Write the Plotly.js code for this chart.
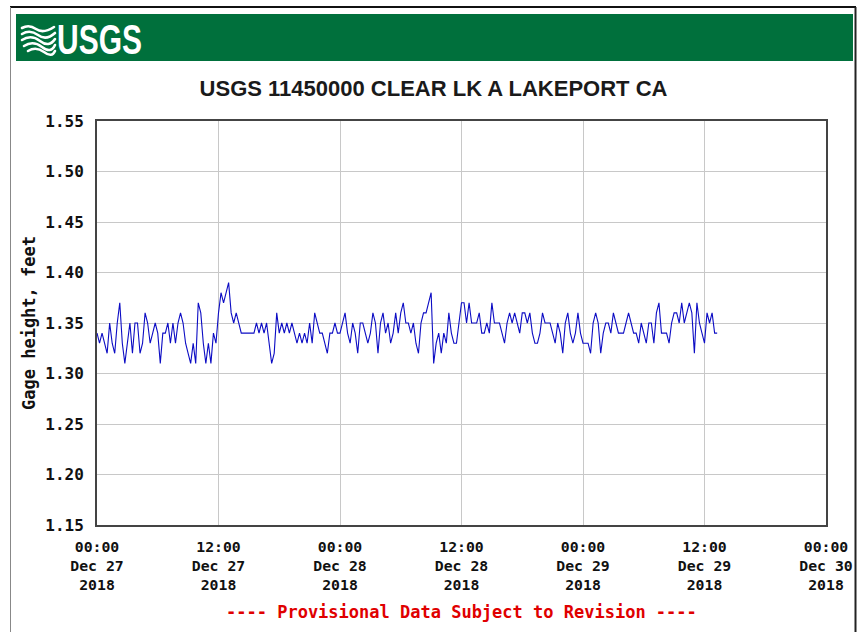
<!DOCTYPE html>
<html>
<head>
<meta charset="utf-8">
<script src="https://cdn.plot.ly/plotly-3.0.1.min.js"></script>
<style>
  html, body { margin: 0; padding: 0; background: #ffffff; }
  #wrap { position: relative; width: 867px; height: 632px; overflow: hidden; }
  #chart { position: absolute; left: 0; top: 0; width: 867px; height: 632px; }
  #deco { position: absolute; left: 0; top: 0; pointer-events: none; z-index: 10; }
</style>
</head>
<body>
<div id="wrap">
  <div id="chart"></div>
  <svg id="deco" width="867" height="632" xmlns="http://www.w3.org/2000/svg">
    <line x1="10" y1="7" x2="856" y2="7" stroke="#111" stroke-width="2"/>
    <line x1="10.5" y1="7" x2="10.5" y2="632" stroke="#888" stroke-width="1"/>
    <line x1="855.5" y1="7" x2="855.5" y2="632" stroke="#222" stroke-width="2"/>
    <rect x="16" y="14" width="837" height="47" fill="#00703c"/>
    <g fill="none" stroke="#ffffff" stroke-width="2.6" stroke-linecap="round">
      <path d="M22,28 Q29,24 36,29 T54,27"/>
      <path d="M22,34 Q30,29 38,35 T55,33"/>
      <path d="M22,40 Q31,34 40,41 T55,39"/>
      <path d="M24,46 Q33,40 42,47 T55,45"/>
      <path d="M28,51 Q36,46 44,52 T55,51"/>
    </g>
    <text x="57" y="54" font-family="Liberation Sans Narrow, Liberation Sans, Arial" font-weight="bold" font-size="42" fill="#ffffff" textLength="85" lengthAdjust="spacingAndGlyphs">USGS</text>
  </svg>
</div>
<script>
// ---- Data (gage height, feet; 15-minute readings from 2018-12-27 00:00) ----
const startDate = "2018-12-27";
const intervalMinutes = 15;
const gageHeightFt = [
  1.34,1.33,1.34,1.33,1.32,1.35,1.33,1.32,1.35,1.37,
  1.33,1.31,1.33,1.35,1.32,1.35,1.35,1.32,1.33,1.36,
  1.35,1.33,1.34,1.35,1.34,1.31,1.34,1.34,1.35,1.33,
  1.35,1.33,1.35,1.36,1.35,1.33,1.32,1.31,1.33,1.31,
  1.37,
  1.36,1.33,1.31,1.33,1.31,1.34,1.33,1.36,1.38,1.37,
  1.38,1.39,1.36,1.35,1.36,1.35,1.34,1.34,1.34,1.34,
  1.34,1.34,1.35,1.34,1.35,1.34,1.35,1.33,1.31,1.32,
  1.36,1.34,1.35,1.34,1.35,1.34,1.35,1.34,1.33,
  1.34,1.33,1.34,1.33,1.35,1.33,1.36,1.35,1.34,1.34,
  1.33,1.32,1.34,1.34,1.35,1.34,1.34,1.35,1.36,1.34,
  1.33,1.35,1.34,1.32,1.35,1.35,1.34,1.33,1.34,1.36,
  1.35,1.32,1.35,1.36,1.34,1.35,1.33,1.34,1.36,1.34,
  1.36,1.37,1.35,1.35,1.34,1.35,1.33,1.32,1.35,1.36,
  1.36,1.37,1.38,1.31,1.33,1.34,1.32,1.34,1.33,1.36,
  1.34,1.33,1.33,1.35,1.37,1.37,1.35,1.37,1.35,1.35,
  1.35,1.36,1.34,1.34,1.35,1.34,1.37,1.35,1.35,
  1.35,1.34,1.33,1.35,1.36,1.35,1.36,1.35,1.34,1.36,
  1.36,1.35,1.36,1.34,1.33,1.33,1.34,1.36,1.35,1.35,
  1.35,1.34,1.33,1.35,1.34,1.32,1.35,1.36,1.34,1.33,
  1.34,1.36,1.34,1.33,1.33,1.33,1.32,1.35,1.36,1.35,
  1.32,1.34,1.35,1.35,1.34,1.36,1.35,1.34,1.34,1.34,
  1.35,1.36,1.35,1.34,1.34,1.33,1.35,1.34,1.33,1.35,
  1.35,1.33,1.36,1.37,1.34,1.34,1.34,1.33,1.35,1.36,
  1.36,1.35,1.37,1.35,1.36,1.37,1.36,1.32,1.37,1.35,
  1.34,1.33,1.36,1.35,1.36,1.34,1.34
];
const xRange = ["2018-12-27 00:00", "2018-12-30 00:00"];
const xTickVals = ["2018-12-27 00:00","2018-12-27 12:00","2018-12-28 00:00","2018-12-28 12:00","2018-12-29 00:00","2018-12-29 12:00","2018-12-30 00:00"];
const xTickText = ["00:00<br>Dec 27<br>2018","12:00<br>Dec 27<br>2018","00:00<br>Dec 28<br>2018","12:00<br>Dec 28<br>2018","00:00<br>Dec 29<br>2018","12:00<br>Dec 29<br>2018","00:00<br>Dec 30<br>2018"];
const yTickVals = [1.15,1.20,1.25,1.30,1.35,1.40,1.45,1.50,1.55];
const yTickText = ["1.15","1.20","1.25","1.30","1.35","1.40","1.45","1.50","1.55"];
const chartTitle = "USGS 11450000 CLEAR LK A LAKEPORT CA";
const yTitle = "Gage height, feet";
const footerText = "---- Provisional Data Subject to Revision ----";

// timestamps for each reading
function pad(n){ return (n < 10 ? "0" : "") + n; }
const times = gageHeightFt.map((v, i) => {
  const total = i * intervalMinutes;
  const day = 27 + Math.floor(total / 1440);
  const h = Math.floor((total % 1440) / 60);
  const m = total % 60;
  return "2018-12-" + pad(day) + " " + pad(h) + ":" + pad(m);
});

const monoFamily = "DejaVu Sans Mono, Liberation Mono, monospace";

const trace = {
  type: "scatter",
  mode: "lines",
  x: times,
  y: gageHeightFt,
  line: { color: "#0c0cc4", width: 1.1 },
  hoverinfo: "x+y"
};

const layout = {
  width: 867,
  height: 632,
  margin: { l: 97, r: 41, t: 121, b: 107, pad: 0 },
  paper_bgcolor: "#ffffff",
  plot_bgcolor: "#ffffff",
  showlegend: false,
  title: {
    text: chartTitle,
    xref: "container", x: 0.5, xanchor: "center",
    yref: "container", y: 1 - 88 / 632, yanchor: "middle",
    font: { family: "Liberation Sans, Arial, sans-serif", size: 22, weight: "bold", color: "#1a1a1a" }
  },
  xaxis: {
    type: "date",
    range: xRange,
    tickmode: "array",
    tickvals: xTickVals,
    ticktext: xTickText,
    showgrid: true, gridcolor: "#c8c8c8", gridwidth: 1,
    showline: true, mirror: true, linecolor: "#444444", linewidth: 2,
    ticks: "", ticklabelstandoff: 7,
    zeroline: false,
    tickfont: { family: monoFamily, size: 14.8, color: "#111111", weight: "bold" },
    fixedrange: true
  },
  yaxis: {
    range: [1.15, 1.55],
    tickmode: "array",
    tickvals: yTickVals,
    ticktext: yTickText,
    showgrid: true, gridcolor: "#c8c8c8", gridwidth: 1,
    showline: true, mirror: true, linecolor: "#444444", linewidth: 2,
    ticks: "", ticklabelstandoff: 8,
    zeroline: false,
    tickfont: { family: monoFamily, size: 16, color: "#111111", weight: "bold" },
    title: { text: yTitle, standoff: 5, font: { family: monoFamily, size: 17, color: "#111111", weight: "bold" } },
    fixedrange: true
  },
  annotations: [{
    text: footerText,
    xref: "paper", x: 0.5, xanchor: "center",
    yref: "paper", y: (525 - 612) / 404, yanchor: "middle",
    showarrow: false,
    font: { family: monoFamily, size: 17, color: "#e00000", weight: "bold" }
  }]
};

Plotly.newPlot("chart", [trace], layout, { staticPlot: true, displayModeBar: false });
</script>
</body>
</html>
